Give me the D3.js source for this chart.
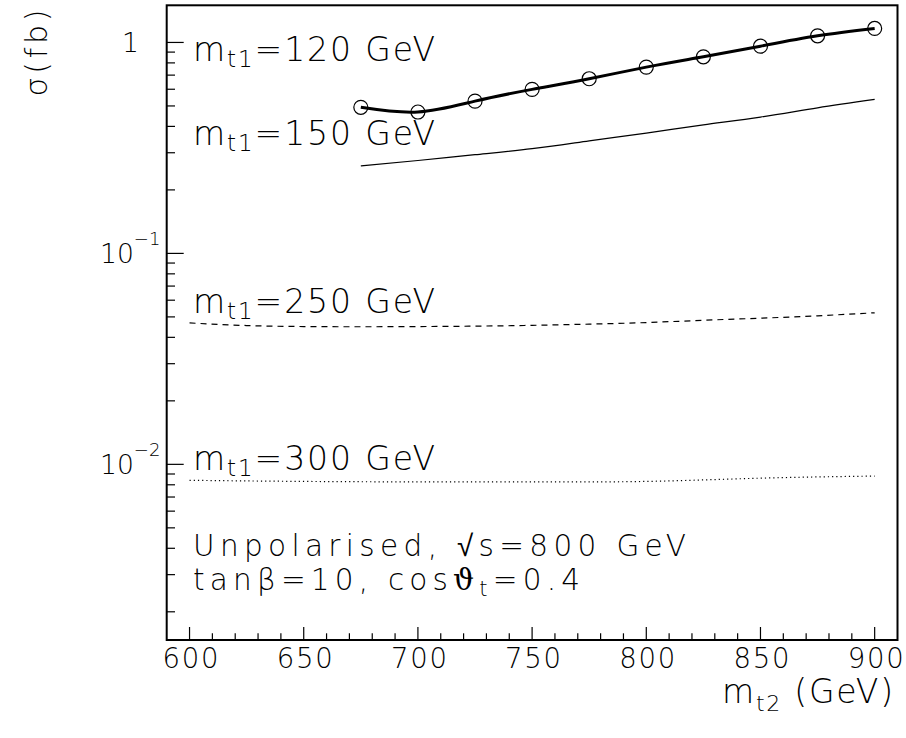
<!DOCTYPE html>
<html><head><meta charset="utf-8">
<script src="https://cdn.jsdelivr.net/npm/d3@7"></script>
<style>body{margin:0;background:#fff}text{font-family:"DejaVu Sans",sans-serif;font-weight:200;fill:#000}</style>
</head><body>
<svg id="c" width="906" height="738"></svg>
<script>
// ---- data ----
const xDomain = [590, 910];
const yDomain = [0.00147, 1.5];
const xTicks = [600, 650, 700, 750, 800, 850, 900];
const yDecades = [1, 0.1, 0.01];
const m120x = [675, 700, 725, 750, 775, 800, 825, 850, 875, 900];
const m120y = [0.4925, 0.468, 0.527, 0.599, 0.673, 0.764, 0.855, 0.960, 1.075, 1.165];
const m150x = [675, 700, 725, 750, 775, 800, 825, 850, 875, 900];
const m150y = [0.260, 0.2756, 0.2937, 0.3135, 0.3413, 0.3717, 0.4066, 0.443, 0.490, 0.537];
const m250x = [600, 625, 650, 675, 700, 725, 750, 775, 800, 825, 850, 875, 900];
const m250y = [0.0468, 0.0455, 0.0450, 0.0449, 0.0450, 0.0452, 0.0456, 0.0462, 0.0470, 0.0482, 0.0493, 0.0506, 0.0523];
const m300x = [600, 650, 700, 750, 800, 850, 900];
const m300y = [0.0084, 0.0083, 0.00826, 0.00826, 0.0083, 0.0086, 0.0088];
const curveLabels = ["120", "150", "250", "300"];

const svg = d3.select("#c");
const L = 166.7, R = 897.5, T = 5.3, B = 640;
const x = d3.scaleLinear(xDomain, [L, R]);
const y = d3.scaleLog(yDomain, [B, T]);

// frame
svg.append("rect").attr("x", L).attr("y", T).attr("width", R - L).attr("height", B - T)
  .attr("fill", "none").attr("stroke", "#000").attr("stroke-width", 2);

// x ticks
const xMinor = d3.range(600, 901, 10);
svg.append("g").selectAll("line").data(xMinor).join("line")
  .attr("x1", d => x(d)).attr("x2", d => x(d))
  .attr("y1", B).attr("y2", d => B - (d % 50 === 0 ? 13 : 6.7))
  .attr("stroke", "#000").attr("stroke-width", 1.2);
svg.append("g").selectAll("text").data(xTicks).join("text")
  .attr("x", d => x(d) + 1).attr("y", 668).attr("text-anchor", "middle")
  .attr("font-size", 27.5).attr("textLength", 56).attr("lengthAdjust", "spacing")
  .text(d => d);

// y ticks
const yMinor = [];
[0.001, 0.01, 0.1, 1].forEach(dec => { for (let k = 1; k <= 9; k++) { const v = dec * k; if (v >= yDomain[0] && v <= yDomain[1]) yMinor.push(v); } });
svg.append("g").selectAll("line").data(yMinor).join("line")
  .attr("x1", L).attr("x2", d => L + (yDecades.some(v => Math.abs(v - d) / v < 1e-6) ? 17 : 8.3))
  .attr("y1", d => y(d)).attr("y2", d => y(d))
  .attr("stroke", "#000").attr("stroke-width", 1.2);
// y labels
svg.append("text").attr("x", 139).attr("y", y(1) + 9.5).attr("text-anchor", "end")
  .attr("font-size", 26.6).text("1");
yDecades.slice(1).forEach(v => {
  const e = Math.round(Math.log10(v));
  const t = svg.append("text").attr("x", 100).attr("y", y(v) + 10).attr("font-size", 26.6);
  t.append("tspan").text("10");
  t.append("tspan").attr("dy", -18).attr("font-size", 18).text("\u2212" + Math.abs(e));
});

// axis titles
svg.append("text").attr("transform", "translate(47,53) rotate(-90)")
  .attr("text-anchor", "middle").attr("font-size", 30).attr("textLength", 87).attr("lengthAdjust", "spacing")
  .text("\u03C3(fb)");
const xt = svg.append("text").attr("x", 893).attr("y", 703).attr("text-anchor", "end")
  .attr("font-size", 33).attr("textLength", 171).attr("lengthAdjust", "spacing");
xt.append("tspan").text("m");
xt.append("tspan").attr("dy", 8).attr("font-size", 22).text("t2");
xt.append("tspan").attr("dy", -8).text(" (GeV)");

// curves
const line = (xs, ys, curve) => d3.line().x(d => x(d[0])).y(d => y(d[1])).curve(curve)(xs.map((v, i) => [v, ys[i]]));
svg.append("path").attr("d", line(m300x, m300y, d3.curveNatural)).attr("fill", "none")
  .attr("stroke", "#000").attr("stroke-width", 1.2).attr("stroke-dasharray", "1.2,3");
svg.append("path").attr("d", line(m250x, m250y, d3.curveNatural)).attr("fill", "none")
  .attr("stroke", "#000").attr("stroke-width", 1.2).attr("stroke-dasharray", "6,5");
svg.append("path").attr("d", line(m150x, m150y, d3.curveNatural)).attr("fill", "none")
  .attr("stroke", "#000").attr("stroke-width", 1.2);
svg.append("path").attr("d", line(m120x, m120y, d3.curveNatural)).attr("fill", "none")
  .attr("stroke", "#000").attr("stroke-width", 3);
svg.append("g").selectAll("circle").data(m120x.map((v, i) => [v, m120y[i]])).join("circle")
  .attr("cx", d => x(d[0])).attr("cy", d => y(d[1])).attr("r", 7)
  .attr("fill", "none").attr("stroke", "#000").attr("stroke-width", 1.2);

// curve labels
const labelY = [61, 145, 313, 470];
curveLabels.forEach((m, i) => {
  const t = svg.append("text").attr("x", 193).attr("y", labelY[i]).attr("font-size", 33)
    .attr("textLength", 242).attr("lengthAdjust", "spacing");
  t.append("tspan").text("m");
  t.append("tspan").attr("dy", 6).attr("font-size", 23).text("t1");
  t.append("tspan").attr("dy", -6).text("=" + m + " GeV");
});

// info text
svg.append("text").attr("x", 193).attr("y", 555.5).attr("font-size", 29.5)
  .attr("textLength", 493).attr("lengthAdjust", "spacing")
  .text("Unpolarised, \u221As=800 GeV");
const t2 = svg.append("text").attr("x", 193).attr("y", 590).attr("font-size", 29.5)
  .attr("textLength", 387).attr("lengthAdjust", "spacing");
t2.append("tspan").text("tan\u03B2=10, cos");
t2.append("tspan").style("font-family", "'DejaVu Serif', 'Noto Sans', serif").style("font-weight", "normal").text("\u03D1");
t2.append("tspan").attr("dy", 6).attr("font-size", 21).text("t");
t2.append("tspan").attr("dy", -6).text("=0.4");
</script>
</body></html>
